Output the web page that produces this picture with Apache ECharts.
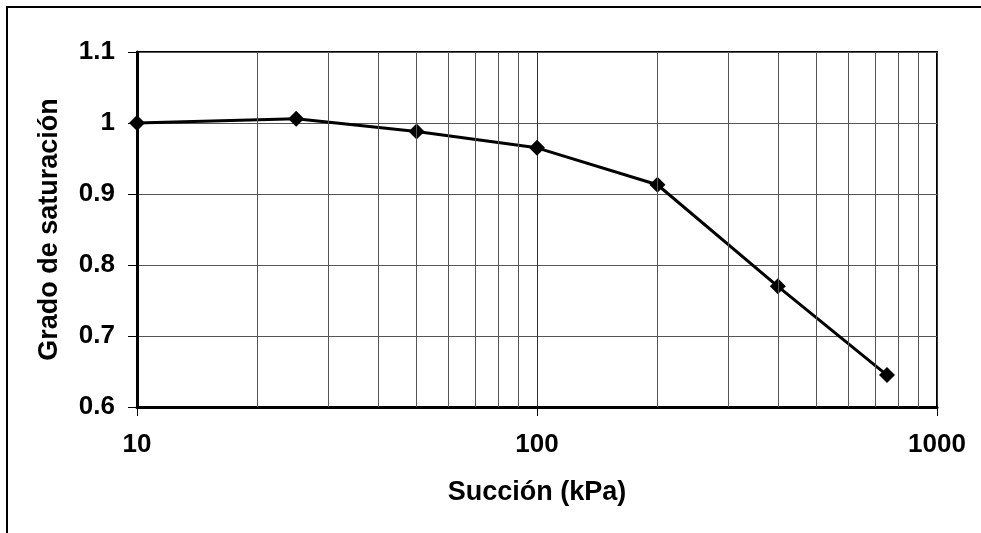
<!DOCTYPE html>
<html>
<head>
<meta charset="utf-8">
<script src="https://cdn.jsdelivr.net/npm/echarts/dist/echarts.min.js"></script>
<style>
    html, body { margin: 0; padding: 0; background: #fff; }
    #main { width: 981px; height: 533px; }
</style>
</head>
<body>
<div id="main"></div>
<script>
var succion = [10, 25, 50, 100, 200, 400, 750];
var saturacion = [1.0, 1.006, 0.988, 0.965, 0.913, 0.77, 0.645];
var minorGrid = [20, 30, 40, 50, 60, 70, 80, 90, 200, 300, 400, 500, 600, 700, 800, 900];

var fontFam = '"Liberation Sans", Arial, sans-serif';

var points = succion.map(function (x, i) {
    return [x, saturacion[i]];
});

var myChart = echarts.init(document.getElementById('main'));
myChart.setOption({
    backgroundColor: '#fff',
    animation: false,
    graphic: [{
        type: 'rect',
        shape: { x: 7, y: 7, width: 1200, height: 800 },
        style: { fill: 'none', stroke: '#000', lineWidth: 2 }
    }],
    grid: {
        left: 137,
        top: 52,
        right: 44,
        bottom: 126,
        show: true,
        borderColor: '#000',
        borderWidth: 2
    },
    xAxis: {
        type: 'log',
        logBase: 10,
        min: 10,
        max: 1000,
        name: 'Succión (kPa)',
        nameLocation: 'middle',
        nameGap: 72,
        nameTextStyle: { fontFamily: fontFam, fontWeight: 'bold', fontSize: 27, color: '#000' },
        axisLine: { lineStyle: { color: '#000', width: 3 } },
        axisTick: { show: true, length: 9, lineStyle: { color: '#000', width: 1 } },
        axisLabel: {
            margin: 25, fontFamily: fontFam, fontWeight: 'bold', fontSize: 26, color: '#000',
            formatter: function (v) { return String(Math.round(v)); }
        },
        splitLine: { show: true, lineStyle: { color: '#333', width: 1 } }
    },
    yAxis: {
        type: 'value',
        min: 0.6,
        max: 1.1,
        interval: 0.1,
        name: 'Grado de saturación',
        nameLocation: 'middle',
        nameGap: 74,
        nameTextStyle: { fontFamily: fontFam, fontWeight: 'bold', fontSize: 27, color: '#000' },
        axisLine: { show: true, lineStyle: { color: '#000', width: 3 } },
        axisTick: { show: true, length: 9, lineStyle: { color: '#000', width: 1 } },
        axisLabel: {
            margin: 22, fontFamily: fontFam, fontWeight: 'bold', fontSize: 26, color: '#000',
            formatter: function (v) { return String(Math.round(v * 10) / 10); }
        },
        splitLine: { show: true, lineStyle: { color: '#555', width: 1 } }
    },
    series: [{
        type: 'line',
        data: points,
        symbol: 'diamond',
        symbolSize: 16,
        lineStyle: { color: '#000', width: 3 },
        itemStyle: { color: '#000' },
        markLine: {
            silent: true,
            symbol: 'none',
            label: { show: false },
            lineStyle: { color: '#555', width: 1, type: 'solid' },
            data: minorGrid.map(function (v) { return { xAxis: v }; })
        },
        z: 3
    }]
});
</script>
</body>
</html>
